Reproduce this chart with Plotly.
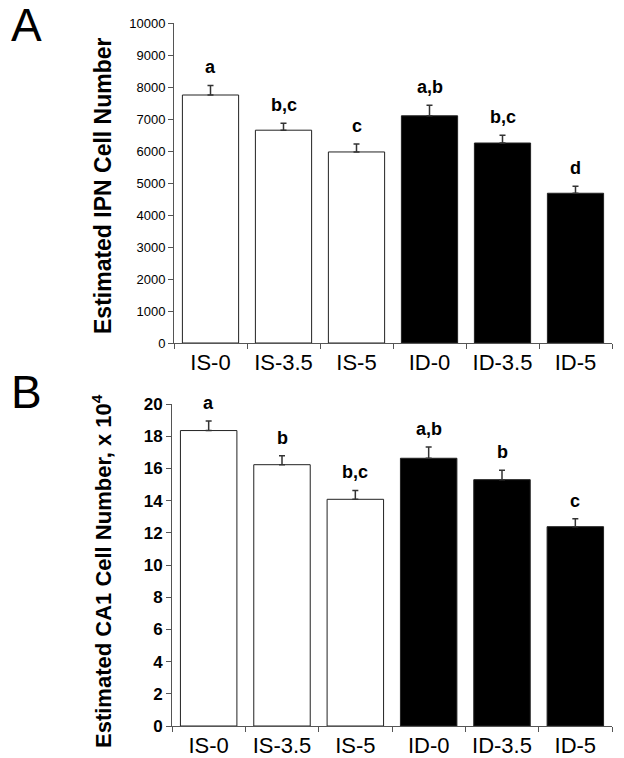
import plotly.graph_objects as go

categories = ["IS-0", "IS-3.5", "IS-5", "ID-0", "ID-3.5", "ID-5"]
ipn_means = [7750, 6650, 5970, 7100, 6250, 4680]
ipn_errs = [300, 220, 250, 330, 240, 220]
ipn_letters = ["a", "b,c", "c", "a,b", "b,c", "d"]
ca1_means = [18.35, 16.23, 14.08, 16.63, 15.3, 12.38]
ca1_errs = [0.6, 0.55, 0.55, 0.7, 0.58, 0.5]
ca1_letters = ["a", "b", "b,c", "a,b", "b", "c"]
bar_colors = ["white", "white", "white", "black", "black", "black"]

# the page body has an 8px margin, so the figure starts 8px in from the
# window corner; window coordinates are converted to figure coordinates
OFF = 8
W, H = 624 - 2 * OFF, 758 - OFF
FONT = "Arial, Liberation Sans, sans-serif"

def px(x):
    return (x - OFF) / W

def py(y):
    return 1 - (y - OFF) / H

fig = go.Figure()

for means, errs, xa, ya in [(ipn_means, ipn_errs, "x", "y"), (ca1_means, ca1_errs, "x2", "y2")]:
    fig.add_trace(go.Bar(
        x=categories, y=means, xaxis=xa, yaxis=ya,
        marker=dict(color=bar_colors, line=dict(color="#222222", width=1)),
        error_y=dict(type="data", array=errs, arrayminus=[0] * len(errs), symmetric=False,
                     color="#333333", thickness=1.5, width=3),
        showlegend=False, hoverinfo="skip",
    ))

annotations = []
for cat, m, e, t in zip(categories, ipn_means, ipn_errs, ipn_letters):
    annotations.append(dict(x=cat, y=m + e, xref="x", yref="y", text="<b>%s</b>" % t,
                            showarrow=False, yshift=18, font=dict(size=18, color="black", family=FONT)))
for cat, m, e, t in zip(categories, ca1_means, ca1_errs, ca1_letters):
    annotations.append(dict(x=cat, y=m + e, xref="x2", yref="y2", text="<b>%s</b>" % t,
                            showarrow=False, yshift=18, font=dict(size=18, color="black", family=FONT)))

# panel labels
annotations.append(dict(x=px(26), y=py(25), xref="paper", yref="paper", text="A", showarrow=False,
                        xanchor="center", yanchor="middle", font=dict(size=46, color="black", family=FONT)))
annotations.append(dict(x=px(26), y=py(392), xref="paper", yref="paper", text="B", showarrow=False,
                        xanchor="center", yanchor="middle", font=dict(size=46, color="black", family=FONT)))
# y-axis titles
annotations.append(dict(x=px(103), y=py(186), xref="paper", yref="paper",
                        text="<b>Estimated IPN Cell Number</b>", textangle=-90, showarrow=False,
                        xanchor="center", yanchor="middle", font=dict(size=23, color="black", family=FONT)))
annotations.append(dict(x=px(102), y=py(571), xref="paper", yref="paper",
                        text="<b>Estimated CA1 Cell Number, x 10<sup>4</sup></b>", textangle=-90, showarrow=False,
                        xanchor="center", yanchor="middle", font=dict(size=22, color="black", family=FONT)))

xcommon = dict(type="category", range=[-0.5, 5.5], showline=True, linecolor="#555555", linewidth=1,
               ticks="outside", tickson="boundaries", ticklen=5, tickcolor="#555555",
               tickfont=dict(size=22, color="black", family=FONT), showgrid=False, zeroline=False,
               automargin=False)
ycommon = dict(showline=True, linecolor="#555555", linewidth=1, ticks="outside", ticklen=5,
               tickcolor="#555555", showgrid=False, zeroline=False, automargin=False, tickformat="d")

fig.update_layout(
    width=W, height=H, margin=dict(l=0, r=0, t=0, b=0),
    paper_bgcolor="white", plot_bgcolor="white", bargap=0.23,
    font=dict(family=FONT, color="black"),
    xaxis=dict(domain=[px(174), px(612)], anchor="y", **xcommon),
    yaxis=dict(domain=[py(343), py(23)], anchor="x", range=[0, 10000], dtick=1000,
               tickfont=dict(size=13, color="black", family=FONT), **ycommon),
    xaxis2=dict(domain=[px(172), px(612)], anchor="y2", **xcommon),
    yaxis2=dict(domain=[py(726), py(404)], anchor="x2", range=[0, 20], dtick=2,
                tickfont=dict(size=17, color="black", family=FONT, weight="bold"), **ycommon),
    annotations=annotations,
)

fig.write_html("out.html")
